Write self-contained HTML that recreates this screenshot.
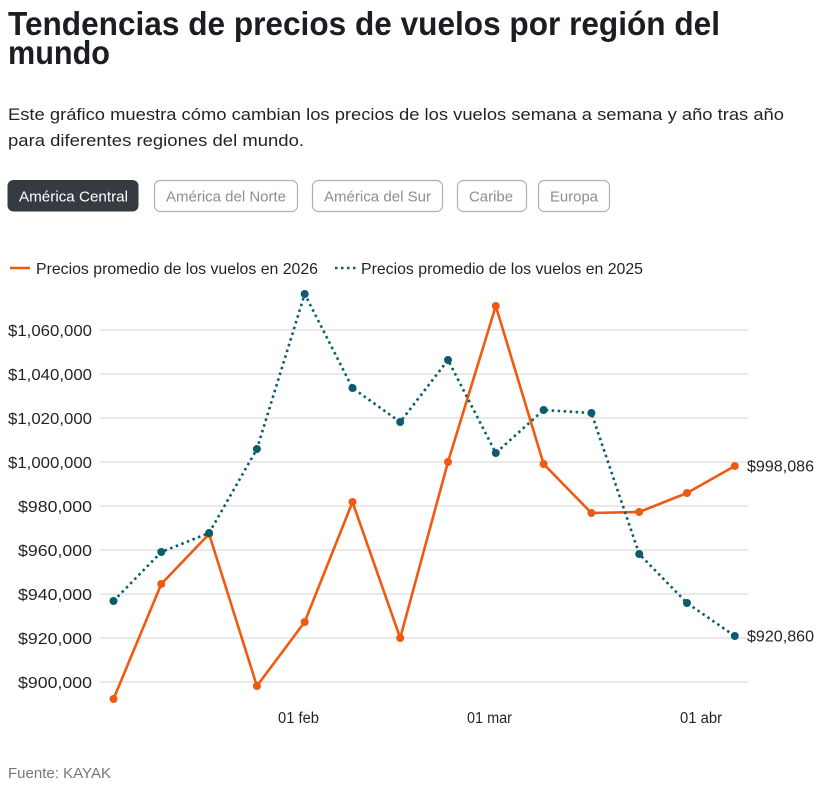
<!DOCTYPE html>
<html>
<head>
<meta charset="utf-8">
<style>
  html, body { margin: 0; padding: 0; background: #ffffff; }
  svg { display: block; }
  text { font-family: "Liberation Sans", sans-serif; }
</style>
</head>
<body>
<svg width="823" height="791" viewBox="0 0 823 791" xmlns="http://www.w3.org/2000/svg">
  <rect width="823" height="791" fill="#ffffff"/>

  <!-- Title -->
  <text x="8" y="35" font-size="33" font-weight="bold" fill="#1a1d21" textLength="712" lengthAdjust="spacingAndGlyphs">Tendencias de precios de vuelos por región del</text>
  <text x="8" y="64" font-size="33" font-weight="bold" fill="#1a1d21" textLength="102" lengthAdjust="spacingAndGlyphs">mundo</text>

  <!-- Subtitle -->
  <text x="8" y="120" font-size="17" fill="#1f2328" textLength="776" lengthAdjust="spacingAndGlyphs">Este gráfico muestra cómo cambian los precios de los vuelos semana a semana y año tras año</text>
  <text x="8" y="146" font-size="17" fill="#1f2328" textLength="296" lengthAdjust="spacingAndGlyphs">para diferentes regiones del mundo.</text>

  <!-- Buttons -->
  <rect x="7.5" y="180" width="131" height="31.5" rx="6" fill="#353b41"/>
  <text x="19" y="201.5" font-size="15" fill="#ffffff" textLength="109" lengthAdjust="spacingAndGlyphs">América Central</text>

  <rect x="154.5" y="180.5" width="143" height="31" rx="6" fill="#ffffff" stroke="#abafb3" stroke-width="1.2"/>
  <text x="166" y="201.5" font-size="15" fill="#8a8f94" textLength="120" lengthAdjust="spacingAndGlyphs">América del Norte</text>

  <rect x="312.5" y="180.5" width="130" height="31" rx="6" fill="#ffffff" stroke="#abafb3" stroke-width="1.2"/>
  <text x="324" y="201.5" font-size="15" fill="#8a8f94" textLength="107" lengthAdjust="spacingAndGlyphs">América del Sur</text>

  <rect x="457.5" y="180.5" width="69" height="31" rx="6" fill="#ffffff" stroke="#abafb3" stroke-width="1.2"/>
  <text x="469" y="201.5" font-size="15" fill="#8a8f94" textLength="44" lengthAdjust="spacingAndGlyphs">Caribe</text>

  <rect x="538.5" y="180.5" width="71" height="31" rx="6" fill="#ffffff" stroke="#abafb3" stroke-width="1.2"/>
  <text x="550" y="201.5" font-size="15" fill="#8a8f94" textLength="48" lengthAdjust="spacingAndGlyphs">Europa</text>

  <!-- Legend -->
  <line x1="10" y1="268" x2="30" y2="268" stroke="#f2590f" stroke-width="2.5"/>
  <text x="36" y="274" font-size="16" fill="#1f2328" textLength="282" lengthAdjust="spacingAndGlyphs">Precios promedio de los vuelos en 2026</text>
  <line x1="335" y1="268" x2="356" y2="268" stroke="#0b5c6c" stroke-width="2.5" stroke-dasharray="2.5 3.5"/>
  <text x="361" y="274" font-size="16" fill="#1f2328" textLength="282" lengthAdjust="spacingAndGlyphs">Precios promedio de los vuelos en 2025</text>

  <!-- Gridlines -->
  <g stroke="#e2e2e2" stroke-width="1.5">
    <line x1="100" y1="330" x2="748" y2="330"/>
    <line x1="100" y1="374" x2="748" y2="374"/>
    <line x1="100" y1="418" x2="748" y2="418"/>
    <line x1="100" y1="462" x2="748" y2="462"/>
    <line x1="100" y1="506" x2="748" y2="506"/>
    <line x1="100" y1="550" x2="748" y2="550"/>
    <line x1="100" y1="594" x2="748" y2="594"/>
    <line x1="100" y1="638" x2="748" y2="638"/>
    <line x1="100" y1="682" x2="748" y2="682"/>
  </g>

  <!-- Y labels -->
  <g font-size="16" fill="#1f2328" text-anchor="end">
    <text x="92" y="336" textLength="84" lengthAdjust="spacingAndGlyphs">$1,060,000</text>
    <text x="92" y="380" textLength="84" lengthAdjust="spacingAndGlyphs">$1,040,000</text>
    <text x="92" y="424" textLength="84" lengthAdjust="spacingAndGlyphs">$1,020,000</text>
    <text x="92" y="468" textLength="84" lengthAdjust="spacingAndGlyphs">$1,000,000</text>
    <text x="92" y="512" textLength="74" lengthAdjust="spacingAndGlyphs">$980,000</text>
    <text x="92" y="556" textLength="74" lengthAdjust="spacingAndGlyphs">$960,000</text>
    <text x="92" y="600" textLength="74" lengthAdjust="spacingAndGlyphs">$940,000</text>
    <text x="92" y="644" textLength="74" lengthAdjust="spacingAndGlyphs">$920,000</text>
    <text x="92" y="688" textLength="74" lengthAdjust="spacingAndGlyphs">$900,000</text>
  </g>

  <!-- X labels -->
  <g font-size="15.5" fill="#1f2328" text-anchor="middle">
    <text x="298.5" y="723" textLength="41" lengthAdjust="spacingAndGlyphs">01 feb</text>
    <text x="489.5" y="723" textLength="45" lengthAdjust="spacingAndGlyphs">01 mar</text>
    <text x="701" y="723" textLength="42" lengthAdjust="spacingAndGlyphs">01 abr</text>
  </g>

  <!-- Orange series (2026) -->
  <polyline fill="none" stroke="#f2590f" stroke-width="2.6" stroke-linejoin="round"
    points="113.5,699 161.3,584 209.1,534 256.9,686 304.7,622 352.5,502 400.2,638 448,462 495.8,306 543.6,464 591.4,513 639.2,512 687,493 734.8,466"/>
  <g fill="#f2590f">
    <circle cx="113.5" cy="699" r="4"/>
    <circle cx="161.3" cy="584" r="4"/>
    <circle cx="209.1" cy="534" r="4"/>
    <circle cx="256.9" cy="686" r="4"/>
    <circle cx="304.7" cy="622" r="4"/>
    <circle cx="352.5" cy="502" r="4"/>
    <circle cx="400.2" cy="638" r="4"/>
    <circle cx="448" cy="462" r="4"/>
    <circle cx="495.8" cy="306" r="4"/>
    <circle cx="543.6" cy="464" r="4"/>
    <circle cx="591.4" cy="513" r="4"/>
    <circle cx="639.2" cy="512" r="4"/>
    <circle cx="687" cy="493" r="4"/>
    <circle cx="734.8" cy="466" r="4"/>
  </g>

  <!-- Teal series (2025) -->
  <polyline fill="none" stroke="#0b5c6c" stroke-width="2.6" stroke-dasharray="2.5 3.5"
    points="113.5,601 161.3,552 209.1,533 256.9,449 304.7,294 352.5,388 400.2,422 448,360 495.8,453 543.6,410 591.4,413 639.2,554 687,603 734.8,636"/>
  <g fill="#0b5c6c">
    <circle cx="113.5" cy="601" r="4"/>
    <circle cx="161.3" cy="552" r="4"/>
    <circle cx="209.1" cy="533" r="4"/>
    <circle cx="256.9" cy="449" r="4"/>
    <circle cx="304.7" cy="294" r="4"/>
    <circle cx="352.5" cy="388" r="4"/>
    <circle cx="400.2" cy="422" r="4"/>
    <circle cx="448" cy="360" r="4"/>
    <circle cx="495.8" cy="453" r="4"/>
    <circle cx="543.6" cy="410" r="4"/>
    <circle cx="591.4" cy="413" r="4"/>
    <circle cx="639.2" cy="554" r="4"/>
    <circle cx="687" cy="603" r="4"/>
    <circle cx="734.8" cy="636" r="4"/>
  </g>

  <!-- End labels -->
  <text x="747" y="471.5" font-size="16" fill="#1f2328" textLength="67" lengthAdjust="spacingAndGlyphs">$998,086</text>
  <text x="747" y="641.5" font-size="16" fill="#1f2328" textLength="67" lengthAdjust="spacingAndGlyphs">$920,860</text>

  <!-- Footer -->
  <text x="8" y="778" font-size="15" fill="#73777c" textLength="103" lengthAdjust="spacingAndGlyphs">Fuente: KAYAK</text>
</svg>
</body>
</html>
